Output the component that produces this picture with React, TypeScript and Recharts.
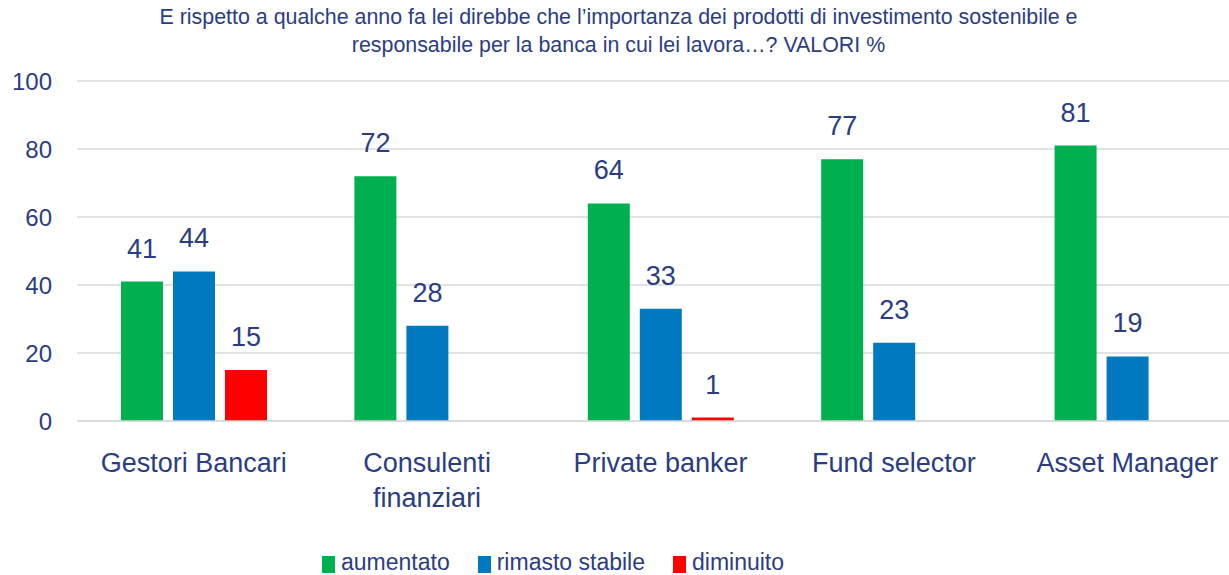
import { BarChart, Bar, XAxis, YAxis, CartesianGrid, LabelList, Legend } from "recharts"

const categories = ["Gestori Bancari", "Consulenti\nfinanziari", "Private banker", "Fund selector", "Asset Manager"]
const aumentato = [41, 72, 64, 77, 81]
const rimastoStabile = [44, 28, 33, 23, 19]
const diminuito: (number | null)[] = [15, null, 1, null, null]
const yTicks = [0, 20, 40, 60, 80, 100]

const seriesNames = ["aumentato", "rimasto stabile", "diminuito"]
const COLORS = ["#00B050", "#0079C1", "#FF0000"]
const TEXT = "#2B3D82"
const FONT = "'Liberation Sans', Arial, sans-serif"

const data = categories.map((c, i) => ({
  name: c,
  aumentato: aumentato[i],
  stabile: rimastoStabile[i],
  diminuito: diminuito[i],
}))

// etichette categoria su più righe (split su \n)
const CategoryTick = ({ x, y, payload }: any) => {
  const lines = String(payload.value).split("\n")
  return (
    <text x={x} y={y + 43} textAnchor="middle" fill={TEXT} fontSize={27} fontFamily={FONT}>
      {lines.map((l, i) => (
        <tspan key={i} x={x} dy={i === 0 ? 0 : 35}>
          {l}
        </tspan>
      ))}
    </text>
  )
}

const ValueLabel = ({ x, y, width, value }: any) => {
  if (value === null || value === undefined) return null
  return (
    <text x={x + width / 2} y={y - 24} textAnchor="middle" fill={TEXT} fontSize={27} fontFamily={FONT}>
      {value}
    </text>
  )
}

const LegendBox = () => (
  <div
    style={{
      display: "flex",
      paddingLeft: 322,
      gap: 28,
      fontFamily: FONT,
      fontSize: 23,
      lineHeight: "30px",
      color: TEXT,
      whiteSpace: "nowrap",
    }}
  >
    {seriesNames.map((n, i) => (
      <div key={n} style={{ display: "flex", alignItems: "center", gap: 6 }}>
        <span style={{ width: 13, height: 17, background: COLORS[i], display: "inline-block", marginTop: 4 }} />
        <span>{n}</span>
      </div>
    ))}
  </div>
)

export default function App() {
  return (
    <div style={{ position: "fixed", left: 0, top: 0, width: 1229, height: 575, background: "#fff", overflow: "hidden" }}>
      <div
        style={{
          position: "absolute",
          top: 3,
          left: 0,
          width: 1229,
          textAlign: "center",
          fontFamily: FONT,
          fontSize: 21.4,
          lineHeight: "28px",
          color: TEXT,
          paddingLeft: 4,
        }}
      >
        E rispetto a qualche anno fa lei direbbe che l’importanza dei prodotti di investimento sostenibile e
        <br />
        responsabile per la banca in cui lei lavora…? VALORI %
      </div>
      <BarChart
        width={1244}
        height={575}
        data={data}
        margin={{ top: 81, right: 0, left: 0, bottom: 0 }}
        barSize={42}
        barGap={10}
      >
        <CartesianGrid vertical={false} stroke="#D9D9D9" strokeWidth={1.5} />
        <XAxis
          dataKey="name"
          axisLine={{ stroke: "#D9D9D9", strokeWidth: 1.5 }}
          tickLine={false}
          tick={<CategoryTick />}
          height={110}
          interval={0}
        />
        <YAxis
          domain={[0, 100]}
          ticks={yTicks}
          width={77}
          axisLine={false}
          tickLine={false}
          tickSize={0}
          tickMargin={25}
          tick={{ fill: TEXT, fontSize: 24, fontFamily: FONT }}
        />
        <Legend
          verticalAlign="bottom"
          height={44}
          wrapperStyle={{ top: 547, left: 0, width: 1229 }}
          content={<LegendBox />}
        />
        <Bar dataKey="aumentato" name={seriesNames[0]} fill={COLORS[0]} isAnimationActive={false}>
          <LabelList dataKey="aumentato" content={<ValueLabel />} />
        </Bar>
        <Bar dataKey="stabile" name={seriesNames[1]} fill={COLORS[1]} isAnimationActive={false}>
          <LabelList dataKey="stabile" content={<ValueLabel />} />
        </Bar>
        <Bar dataKey="diminuito" name={seriesNames[2]} fill={COLORS[2]} isAnimationActive={false}>
          <LabelList dataKey="diminuito" content={<ValueLabel />} />
        </Bar>
      </BarChart>
    </div>
  )
}
